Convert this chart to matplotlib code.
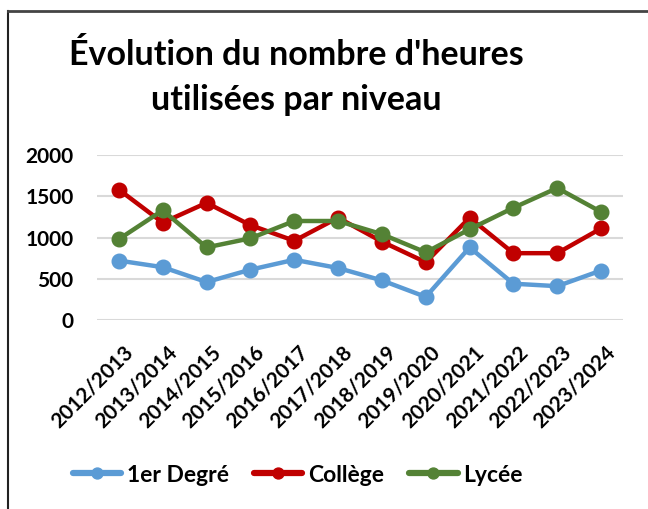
import matplotlib
matplotlib.use('Agg')
import matplotlib.pyplot as plt
import matplotlib.transforms as mtransforms
from matplotlib.lines import Line2D

# Données
annees = ['2012/2013', '2013/2014', '2014/2015', '2015/2016', '2016/2017', '2017/2018',
          '2018/2019', '2019/2020', '2020/2021', '2021/2022', '2022/2023', '2023/2024']
premier_degre = [720, 640, 460, 610, 730, 630, 480, 280, 880, 440, 410, 600]
college = [1580, 1180, 1420, 1150, 960, 1240, 950, 700, 1240, 810, 810, 1110]
lycee = [980, 1330, 880, 990, 1200, 1200, 1040, 820, 1100, 1360, 1600, 1310]

series = [('1er Degré', premier_degre, '#5B9BD5'),
          ('Collège', college, '#C00000'),
          ('Lycée', lycee, '#548235')]

W, H = 648, 509
fig = plt.figure(figsize=(W / 100, H / 100), dpi=100)

# cadre (bord gauche et haut seulement)
fig.add_artist(Line2D([8 / W, 8 / W], [0, 1 - 11 / H], color='#222222', lw=1.5,
                      transform=fig.transFigure))
fig.add_artist(Line2D([8 / W, 1], [1 - 11 / H, 1 - 11 / H], color='#444444', lw=2,
                      transform=fig.transFigure))

ax = fig.add_axes([97 / W, 1 - 320 / H, (623 - 97) / W, (320 - 155) / H])

x = list(range(len(annees)))
for nom, vals, col in series:
    ax.plot(x, vals, color=col, lw=3.2, marker='o', markersize=10.5, label=nom,
            solid_capstyle='round', zorder=3)

ax.set_xlim(-0.5, len(annees) - 0.5)
ax.set_ylim(0, 2000)
ax.set_yticks([0, 500, 1000, 1500, 2000])
ax.grid(axis='y', color='#D9D9D9', lw=1.5)
ax.set_axisbelow(True)
for s in ax.spines.values():
    s.set_visible(False)
ax.tick_params(length=0)
ax.tick_params(axis='y', pad=17)
ax.tick_params(axis='x', pad=16)
ax.set_yticklabels(['0', '500', '1000', '1500', '2000'], fontsize=15,
                   fontweight='bold', family='Lato')
ax.set_xticks(x)
ax.set_xticklabels(annees, rotation=45, ha='right', rotation_mode='anchor',
                   fontsize=15, fontweight='bold', family='Lato')
decal = mtransforms.ScaledTranslation(4 / 100, 0, fig.dpi_scale_trans)
for lab in ax.get_xticklabels():
    lab.set_transform(lab.get_transform() + decal)

fig.text(296 / W, 1 - 55 / H, "Évolution du nombre d'heures", ha='center', va='center',
         fontsize=24.5, fontweight='bold', family='Lato')
fig.text(296 / W, 1 - 100 / H, "utilisées par niveau", ha='center', va='center',
         fontsize=24.5, fontweight='bold', family='Lato')

leg = fig.legend(loc='center', bbox_to_anchor=(298 / W, 1 - 475 / H), ncol=3, frameon=False,
                 prop={'family': 'Lato', 'weight': 'bold', 'size': 16.5},
                 handlelength=2.1, columnspacing=1.1, handletextpad=0.25, markerscale=0.75)
for h in leg.legend_handles:
    h.set_linewidth(4.5)

fig.savefig('out.png', dpi=100, facecolor='white')
